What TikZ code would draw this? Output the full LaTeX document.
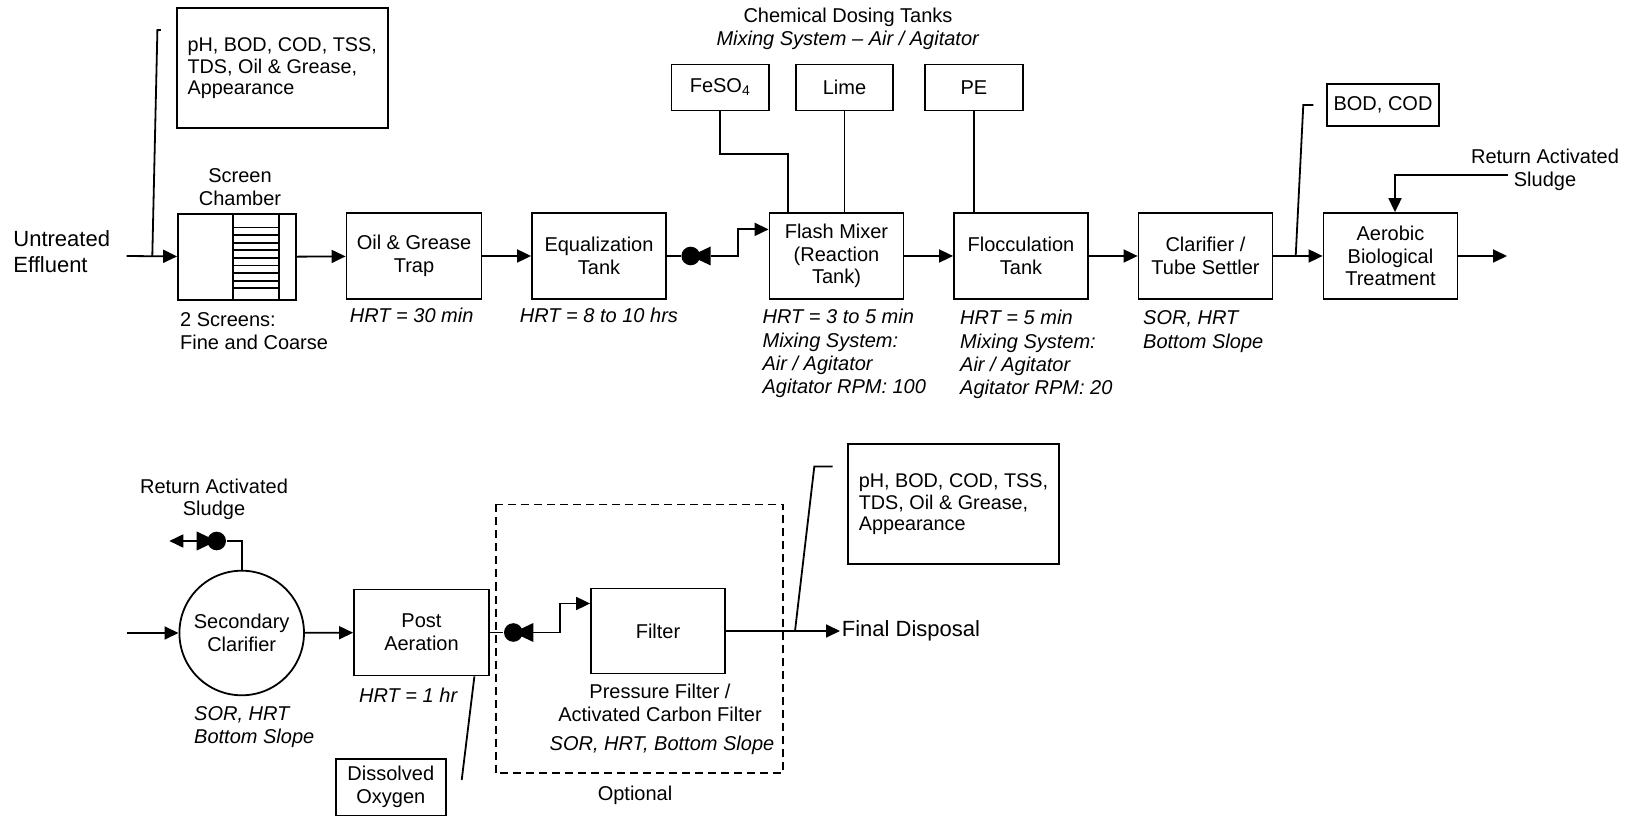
\documentclass[tikz,border=0pt]{standalone}
\usepackage{fontspec}
\setmainfont{Liberation Sans}
\usetikzlibrary{arrows.meta,positioning}
\newcommand{\pump}[3]{\node[pumpbody] (#1) at (#2) {};
  \fill (#1.center) -- ++(#3*20,-9.5) -- ++(0,19) -- cycle;
  \coordinate (#1-out) at ([xshift=#3*10pt]#1.center)}

\begin{document}
\begin{tikzpicture}[x=0.5pt,y=-0.5pt,line width=0.9pt,
    font=\fontsize{10}{11.4}\selectfont,
    >={Triangle[length=7pt,width=6.5pt]},
    unit/.style={draw,minimum width=67pt,minimum height=43pt,align=center,inner sep=1pt},
    tank/.style={draw,minimum width=48.8pt,minimum height=23pt,inner sep=1pt},
    spec/.style={draw,minimum width=105.5pt,minimum height=60pt,align=left,
      font=\fontsize{9.9}{10.85}\selectfont},
    note/.style={anchor=base west,inner sep=0pt,align=left,
      font=\fontsize{10}{11.65}\selectfont\itshape},
    big/.style={inner sep=0pt,font=\fontsize{11}{12.6}\selectfont},
    pumpbody/.style={circle,fill,inner sep=0pt,minimum size=9.3pt}]
  \useasboundingbox (0,0) rectangle (1627,817);

  % first row
  \node[big,anchor=base west,align=left] (inlet) at (12.5,272.2) {Untreated\\Effluent};
  \node[spec] (q1) at (282.2,68.3) {pH, BOD, COD, TSS,\\TDS, Oil \& Grease,\\Appearance};
  \node[unit,minimum width=59pt] (screen) at (237,257) {};
  \node[unit,minimum width=67.5pt] (oil) at (414,256) {Oil \& Grease\\Trap};
  \node[unit] (eq) at (599,256) {Equalization\\Tank};
  \pump{p1}{690.7,256}{1};
  \node[unit] (flash) at (836.5,256) {Flash Mixer\\(Reaction\\Tank)};
  \node[unit] (flocc) at (1021,256) {Flocculation\\Tank};
  \node[unit] (clar) at (1205.5,256) {Clarifier /\\Tube Settler};
  \node[unit] (aero) at (1390.5,256) {Aerobic\\Biological\\Treatment};
  \node[draw,minimum width=55.3pt,minimum height=21pt] (bod) at (1383,105) {BOD, COD};

  \node[align=center] (dosing) at (848,29.2) {Chemical Dosing Tanks\\\textit{Mixing System -- Air / Agitator}};
  \node[tank] (fe) at (720.3,87.5) {FeSO\textsubscript{4}};
  \node[tank] (lime) at (844.5,87.5) {Lime};
  \node[tank] (pe) at (973.9,87.5) {PE};

  \node[align=center] (scrlabel) at (240,187) {Screen\\Chamber};
  \node[anchor=base west,inner sep=0pt,align=left] (scrnote) at (179.3,349.8) {2 Screens:\\Fine and Coarse};
  \node[note] (oilnote) at (349,323) {HRT = 30 min};
  \node[note] (eqnote) at (519,323) {HRT = 8 to 10 hrs};
  \node[note] (flashnote) at (761.7,393.9) {HRT = 3 to 5 min\\Mixing System:\\Air / Agitator\\Agitator RPM: 100};
  \node[note] (floccnote) at (959.3,394.9) {HRT = 5 min\\Mixing System:\\Air / Agitator\\Agitator RPM: 20};
  \node[note] (clarnote) at (1142.3,348.3) {SOR, HRT\\Bottom Slope};
  \node[align=center,font=\fontsize{10}{11.7}\selectfont] (ras1) at (1545,170) {Return Activated\\Sludge};

  \coordinate (inlet-end) at (126.6,256);
  \coordinate (q1foot) at (152.3,256);
  \coordinate (bodfoot) at (1295.7,256);
  \coordinate (ras1in) at (1508,175);
  \coordinate (aeroout) at (1507,256);

  \foreach \xx in {233.3,279.3}
    \draw (\xx,214) -- (\xx,300);
  \foreach \k in {0,...,8}
    \draw (233.3,{227.5+7.6*\k}) -- (279.3,{227.5+7.6*\k});

  \draw[->] (inlet-end) -- (screen);
  \draw (q1foot) -- ([xshift=-9.2pt,yshift=-11.35pt]q1.north west) -- ([xshift=-7.5pt,yshift=-11.35pt]q1.north west);
  \draw[->] (screen) -- (oil);
  \draw[->] (oil) -- (eq);
  \draw (eq) -- (p1);
  \draw[->] (p1-out) -- ++(27.6,0) |- ([yshift=13.3pt]flash.west);
  \draw (fe.south) -- ++(0,43) -| ([xshift=-24.4pt]flash.north);
  \draw (lime.south) -- (lime.south |- flash.north);
  \draw (pe.south) -- (pe.south |- flocc.north);
  \draw[->] (flash) -- (flocc);
  \draw[->] (flocc) -- (clar);
  \draw[->] (clar) -- (aero);
  \draw (bodfoot) -- ([xshift=-11.35pt]bod.west) -- ([xshift=-6.35pt]bod.west);
  \draw[->] (ras1in) -| ([xshift=2.25pt]aero.north);
  \draw[->] (aero) -- (aeroout);

  % second row
  \node[align=center,font=\fontsize{10}{10.85}\selectfont] (ras2) at (214,499) {Return Activated\\Sludge};
  \pump{p3}{216.7,541}{-1};
  \node[draw,circle,minimum size=62.3pt,inner sep=0pt,align=center] (sec) at (241.7,633) {Secondary\\Clarifier};
  \node[unit,minimum width=67.5pt] (post) at (421.5,632.5) {Post\\Aeration};
  \pump{p2}{513.3,632.5}{1};
  \node[unit,minimum height=42.5pt] (filt) at (658,631) {Filter};
  \node[big,anchor=west,inner xsep=0.5pt] (final) at (840,631) {Final Disposal};
  \node[spec] (q2) at (953.4,504.2) {pH, BOD, COD, TSS,\\TDS, Oil \& Grease,\\Appearance};
  \node[draw,minimum width=55pt,minimum height=28.4pt,align=center] (do) at (390.8,787) {Dissolved\\Oxygen};

  \node[note] (secnote) at (193.3,743.6) {SOR, HRT\\Bottom Slope};
  \node[note] (postnote) at (358.3,702) {HRT = 1 hr};
  \node[align=center] (filtname) at (660,703) {Pressure Filter /\\Activated Carbon Filter};
  \node[font=\fontsize{10}{11.4}\selectfont\itshape] (filtnote) at (662,745) {SOR, HRT, Bottom Slope};
  \node (optional) at (635,795) {Optional};

  \coordinate (secin) at (126.6,633);
  \coordinate (p3tip) at (169.3,541);
  \coordinate (finalfoot) at (795,631);
  \coordinate (dotip) at (461.7,780);

  \draw[dashed,dash pattern=on 4pt off 2.5pt] (496,504.5) rectangle (783.3,773.3);

  \draw[->] (secin) -- (sec);
  \draw (sec.north) |- (p3);
  \draw[->] (p3-out) -- (p3tip);
  \draw[->] (sec) -- (post);
  \draw ([xshift=-7.75pt]post.south east) -- (dotip);
  \draw (post) -- (p2);
  \draw[->] (p2-out) -- ++(27,0) |- ([yshift=13.75pt]filt.west);
  \draw[->] (filt) -- (final);
  \draw (finalfoot) -- ([xshift=-16.35pt,yshift=-11.65pt]q2.north west) -- ([xshift=-7.2pt,yshift=-11.65pt]q2.north west);
\end{tikzpicture}
\end{document}
